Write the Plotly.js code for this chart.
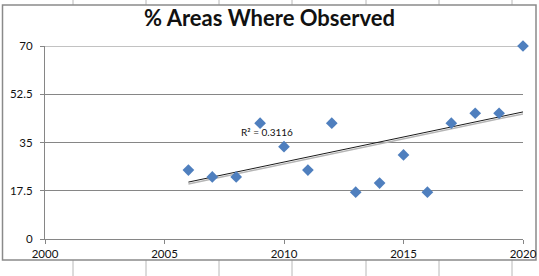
<!DOCTYPE html>
<html><head><meta charset="utf-8">
<script src="https://cdn.plot.ly/plotly-3.0.1.min.js"></script>
<style>html,body{margin:0;padding:0;background:#fff;}#chart{width:539px;height:276px;}</style>
</head><body><div id="chart"></div>
<script>
const years = [2006,2007,2008,2009,2010,2011,2012,2013,2014,2015,2016,2017,2018,2019,2020];
const pctAreas = [25,22.5,22.5,42,33.5,25,42,17,20.3,30.5,17,42,45.6,45.6,70];
const yTicks = [0,17.5,35,52.5,70];
const xTicks = [2000,2005,2010,2015,2020];
const titleText = "% Areas Where Observed";
const r2Label = "R² = 0.3116";

// least-squares trend line
const n = years.length;
const mx = years.reduce((a,b)=>a+b,0)/n;
const my = pctAreas.reduce((a,b)=>a+b,0)/n;
let sxy=0, sxx=0;
for(let i=0;i<n;i++){sxy+=(years[i]-mx)*(pctAreas[i]-my);sxx+=(years[i]-mx)**2;}
const slope=sxy/sxx, icpt=my-slope*mx;
const tx=[years[0],years[n-1]];
const ty=tx.map(x=>icpt+slope*x);
const tyShadow=ty.map(v=>v-0.7);

const W=539,H=276,L=45,R=16,T=46,B=37;
const pw=W-L-R, ph=H-T-B;
const px=x=>(x-L)/pw, py=y=>(H-B-y)/ph;
const shapes=[];
const colX=[73,146,219,292,366,439,512];
colX.forEach(x=>{
  shapes.push({type:'line',xref:'paper',yref:'paper',x0:px(x),x1:px(x),y0:py(0),y1:py(5),line:{color:'#b8b8b8',width:1},layer:'below'});
  shapes.push({type:'line',xref:'paper',yref:'paper',x0:px(x),x1:px(x),y0:py(260),y1:py(276),line:{color:'#b8b8b8',width:1},layer:'below'});
});
shapes.push({type:'rect',xref:'paper',yref:'paper',x0:px(2.5),x1:px(536),y0:py(260),y1:py(5),line:{color:'#8a8a8a',width:1.5},fillcolor:'rgba(0,0,0,0)',layer:'below'});
// top gridline at the axis maximum
shapes.push({type:'line',xref:'paper',yref:'y',x0:0,x1:1,y0:yTicks[yTicks.length-1],y1:yTicks[yTicks.length-1],line:{color:'#868686',width:1},layer:'below'});

const traces=[
  {x:tx,y:tyShadow,mode:'lines',line:{color:'#b5b5b5',width:1.5},hoverinfo:'skip',showlegend:false},
  {x:tx,y:ty,mode:'lines',line:{color:'#1a1a1a',width:1},hoverinfo:'skip',showlegend:false},
  {x:years,y:pctAreas,mode:'markers',cliponaxis:false,marker:{symbol:'diamond',size:9,color:'#4f7fbe'},showlegend:false}
];
const layout={
  width:W,height:H,margin:{l:L,r:R,t:T,b:B},
  paper_bgcolor:'#ffffff',plot_bgcolor:'#ffffff',
  font:{family:'Lato, Carlito, sans-serif',size:11,color:'#222'},
  title:{text:'<b>'+titleText+'</b>',font:{family:'Lato, sans-serif',size:22,color:'#111'},x:0.5,xanchor:'center',y:1-18/H,yanchor:'middle'},
  xaxis:{range:[2000,2020],tickvals:xTicks,ticktext:xTicks.map(String),showgrid:false,zeroline:false,
    showline:true,linecolor:'#868686',linewidth:1,ticks:'outside',ticklen:4,tickcolor:'#868686',tickfont:{size:11.5,color:'#111'}},
  yaxis:{range:[0,70],tickvals:yTicks,ticktext:yTicks.map(String),showgrid:true,gridcolor:'#868686',gridwidth:1,zeroline:false,
    showline:true,linecolor:'#868686',linewidth:1,ticks:'outside',ticklen:4,tickcolor:'#868686',ticklabelstandoff:5,tickfont:{size:11.5,color:'#111'}},
  shapes:shapes,
  annotations:[{x:2009.3,y:38.9,xref:'x',yref:'y',text:r2Label,showarrow:false,font:{size:10,color:'#111'}}]
};
Plotly.newPlot('chart',traces,layout,{displayModeBar:false,staticPlot:true});
</script></body></html>
